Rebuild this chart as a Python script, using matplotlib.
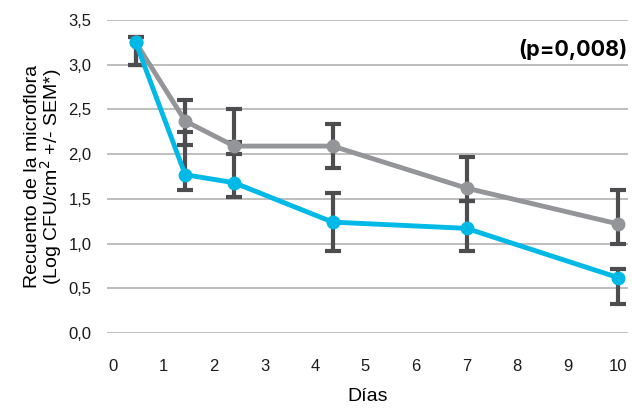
import numpy as np
import matplotlib.pyplot as plt

plt.rcParams['font.family'] = ['Liberation Sans', 'DejaVu Sans']

# posiciones en el eje de días, tal como aparecen en el gráfico
dias = [0.45, 1.43, 2.4, 4.35, 7.0, 10.0]

gris = [3.25, 2.37, 2.09, 2.09, 1.62, 1.22]
gris_sup = [3.31, 2.60, 2.50, 2.34, 1.97, 1.60]
gris_inf = [3.00, 2.10, 2.00, 1.85, 1.48, 1.00]

azul = [3.25, 1.77, 1.68, 1.24, 1.17, 0.62]
azul_sup = [3.31, 2.25, 2.14, 1.56, 1.48, 0.72]
azul_inf = [3.00, 1.60, 1.52, 0.92, 0.92, 0.32]

c_gris = '#939598'
c_azul = '#00b9e6'
c_err = '#4d4d4f'

fig = plt.figure(figsize=(6.32, 4.16), dpi=100)
ax = fig.add_axes([107 / 632, 1 - 333 / 416, (628 - 107) / 632, (333 - 20) / 416])

for y, sup, inf in [(gris, gris_sup, gris_inf), (azul, azul_sup, azul_inf)]:
    y = np.array(y)
    yerr = [y - np.array(inf), np.array(sup) - y]
    ax.errorbar(dias, y, yerr=yerr, fmt='none', ecolor=c_err, elinewidth=3,
                capsize=6, capthick=3, zorder=2)

ax.plot(dias, gris, color=c_gris, lw=3.5, marker='o', ms=9, zorder=3)
ax.plot(dias, azul, color=c_azul, lw=3.5, marker='o', ms=9, zorder=4)

ax.set_ylim(0, 3.5)
ax.set_xlim(-6 / 50.5, 10 + 10 / 50.5)
ax.set_yticks(np.arange(0, 3.51, 0.5))
ax.set_yticklabels([f'{v:.1f}'.replace('.', ',') for v in np.arange(0, 3.51, 0.5)])
ax.set_xticks(range(0, 11))
ax.grid(axis='y', color='#b3b3b3', lw=1.2)
ax.set_axisbelow(True)
for s in ax.spines.values():
    s.set_visible(False)
ax.tick_params(axis='both', length=0, labelsize=12, colors='#1a1a1a')
ax.tick_params(axis='x', pad=19)
ax.tick_params(axis='y', pad=11)

ax.set_xlabel('Días', fontsize=14, labelpad=10)
ax.set_ylabel('Recuento de la microflora\n(Log CFU/cm$^2$ +/- SEM*)', fontsize=14,
              linespacing=0.9, labelpad=3)

ax.text(1.0, 0.905, '(p=0,008)', transform=ax.transAxes, ha='right', va='center',
        fontsize=15.5, fontweight='bold', family=['Inter', 'DejaVu Sans'])

fig.savefig('out.png', dpi=100)
